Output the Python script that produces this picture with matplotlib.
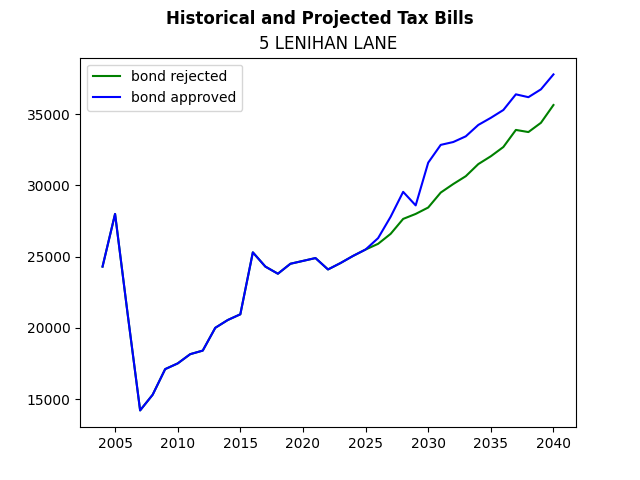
import matplotlib
matplotlib.use("Agg")
import matplotlib.pyplot as plt

years = list(range(2004, 2041))
common = [24300, 28000, 21000, 14200, 15300, 17100, 17500, 18150, 18400, 20000,
          20550, 20950, 25300, 24300, 23800, 24500, 24700, 24900, 24100, 24550,
          25050, 25500]
rejected_tail = [25900, 26600, 27650, 28000, 28450, 29500, 30100, 30650, 31500,
                 32050, 32700, 33900, 33750, 34400, 35650]
approved_tail = [26300, 27800, 29550, 28600, 31600, 32850, 33050, 33450, 34250,
                 34750, 35300, 36400, 36200, 36750, 37800]
rejected = common + rejected_tail
approved = common + approved_tail

fig, ax = plt.subplots(figsize=(6.4, 4.8), dpi=100)
ax.plot(years, rejected, color="green", label="bond rejected")
ax.plot(years, approved, color="blue", label="bond approved")
fig.suptitle("Historical and Projected Tax Bills", fontweight="bold")
ax.set_title("5 LENIHAN LANE")
ax.legend(loc="upper left")
fig.savefig("out.png")
